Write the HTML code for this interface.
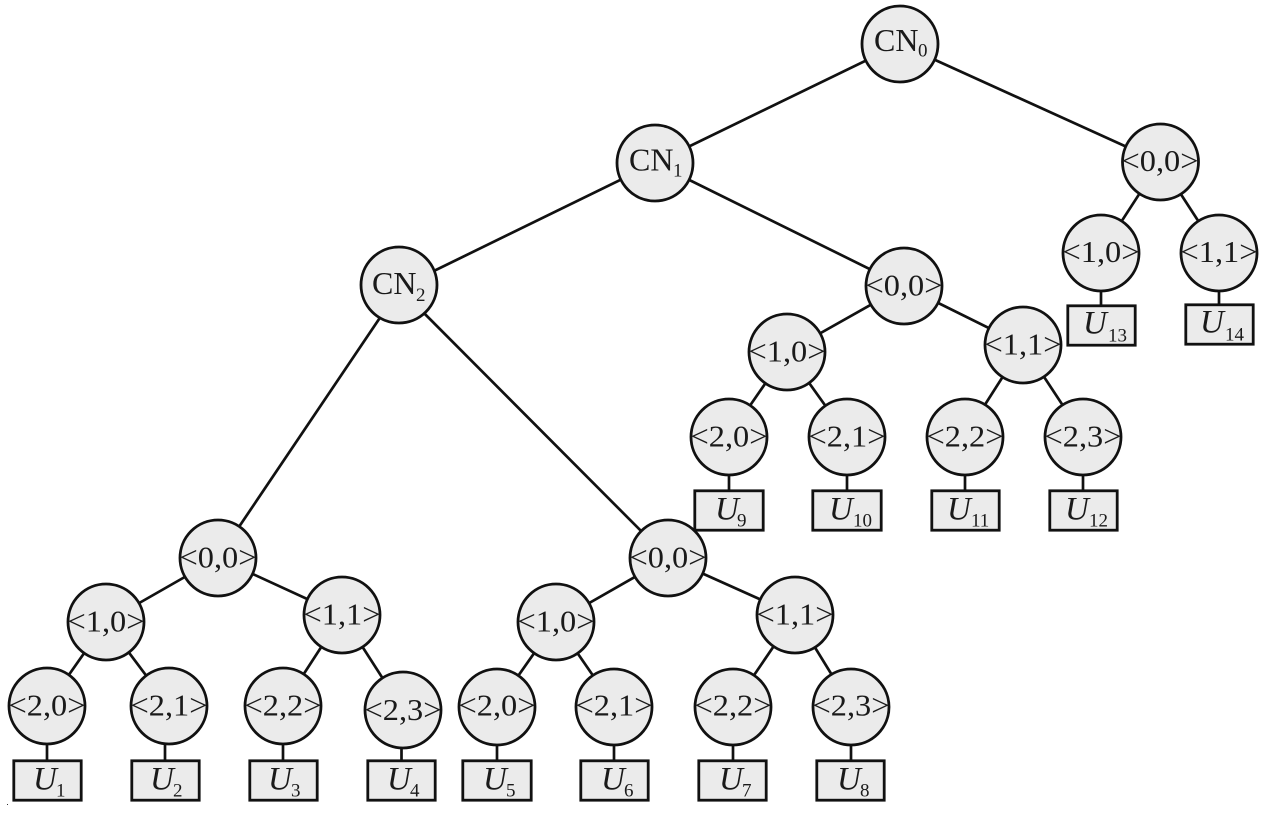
<!DOCTYPE html>
<html><head><meta charset="utf-8"><style>
html,body{margin:0;padding:0;background:#fff;width:1271px;height:817px;overflow:hidden}
svg{display:block}
line{stroke:#111;stroke-width:2.7}
circle{fill:#ebebeb;stroke:#111;stroke-width:2.8}
rect{fill:#ebebeb;stroke:#111;stroke-width:2.8}
text{font-family:"Liberation Serif",serif;fill:#1a1a1a}
.n{font-size:31px;text-anchor:middle}
.c{font-size:32px}
.s{font-size:19px}
.u{font-size:33px;font-style:italic}
</style></head><body>
<svg width="1271" height="817" viewBox="0 0 1271 817">
<g>
<line x1="900" y1="44" x2="655" y2="163"/><line x1="900" y1="44" x2="1160" y2="162"/>
<line x1="655" y1="163" x2="399" y2="288"/><line x1="655" y1="163" x2="904" y2="286"/>
<line x1="1160" y1="162" x2="1101" y2="253"/><line x1="1160" y1="162" x2="1219" y2="253"/>
<line x1="1101" y1="253" x2="1101" y2="305"/><line x1="1219" y1="253" x2="1219" y2="305"/>
<line x1="904" y1="286" x2="787" y2="352"/><line x1="904" y1="286" x2="1023" y2="345"/>
<line x1="787" y1="352" x2="729" y2="436"/><line x1="787" y1="352" x2="847" y2="436"/>
<line x1="1023" y1="345" x2="965" y2="436"/><line x1="1023" y1="345" x2="1083" y2="436"/>
<line x1="729" y1="436" x2="729" y2="492"/><line x1="847" y1="436" x2="847" y2="492"/>
<line x1="965" y1="436" x2="965" y2="492"/><line x1="1083" y1="436" x2="1083" y2="492"/>
<line x1="402" y1="285" x2="218" y2="558"/><line x1="396" y1="285" x2="668" y2="558"/>
<line x1="218" y1="558" x2="106" y2="622"/><line x1="218" y1="558" x2="342" y2="615"/>
<line x1="106" y1="622" x2="47" y2="706"/><line x1="106" y1="622" x2="169" y2="706"/>
<line x1="342" y1="615" x2="283" y2="706"/><line x1="342" y1="615" x2="403" y2="710"/>
<line x1="668" y1="558" x2="556" y2="622"/><line x1="668" y1="558" x2="795" y2="615"/>
<line x1="556" y1="622" x2="497" y2="706"/><line x1="556" y1="622" x2="614" y2="706"/>
<line x1="795" y1="615" x2="733" y2="706"/><line x1="795" y1="615" x2="851" y2="706"/>
<line x1="47" y1="706" x2="47" y2="760"/><line x1="165" y1="706" x2="165" y2="760"/>
<line x1="283" y1="706" x2="283" y2="760"/><line x1="401.5" y1="709" x2="401.5" y2="760"/>
<line x1="497" y1="706" x2="497" y2="760"/><line x1="614" y1="706" x2="614" y2="760"/>
<line x1="733" y1="706" x2="733" y2="760"/><line x1="851" y1="706" x2="851" y2="760"/>
</g>
<g>
<circle cx="900" cy="44" r="38"/><circle cx="655" cy="163" r="38"/><circle cx="399" cy="285" r="38"/>
<circle cx="1160.5" cy="162" r="38"/><circle cx="1101" cy="253" r="38"/><circle cx="1219" cy="253" r="38"/>
<circle cx="904" cy="286" r="38"/><circle cx="787" cy="352" r="38"/><circle cx="1023" cy="345" r="38"/>
<circle cx="729" cy="437" r="38"/><circle cx="847" cy="437" r="38"/><circle cx="965" cy="437" r="38"/><circle cx="1083" cy="437" r="38"/>
<circle cx="218" cy="558" r="38"/><circle cx="106" cy="622" r="38"/><circle cx="342" cy="615" r="38"/>
<circle cx="47" cy="706" r="38"/><circle cx="169" cy="706" r="38"/><circle cx="283" cy="706" r="38"/><circle cx="403" cy="710" r="38"/>
<circle cx="668" cy="558" r="38"/><circle cx="556" cy="622" r="38"/><circle cx="795" cy="615" r="38"/>
<circle cx="497" cy="707" r="38"/><circle cx="614" cy="707" r="38"/><circle cx="733" cy="707" r="38"/><circle cx="851" cy="707" r="38"/>
</g>
<g>
<rect x="1067.8" y="305.8" width="67.4" height="39.4"/><rect x="1185.8" y="304.8" width="67.4" height="39.4"/>
<rect x="694.8" y="490.8" width="68.4" height="39.4"/><rect x="812.8" y="490.8" width="68.4" height="39.4"/><rect x="931.8" y="490.8" width="67.4" height="39.4"/><rect x="1049.8" y="490.8" width="67.4" height="39.4"/>
<rect x="13.8" y="760.8" width="67.4" height="39.4"/><rect x="131.8" y="760.8" width="67.4" height="39.4"/><rect x="249.8" y="760.8" width="67.4" height="39.4"/><rect x="367.8" y="760.8" width="67.4" height="39.4"/>
<rect x="462.8" y="760.8" width="68.4" height="39.4"/><rect x="580.8" y="760.8" width="67.4" height="39.4"/><rect x="698.8" y="760.8" width="67.4" height="39.4"/><rect x="816.8" y="760.8" width="67.4" height="39.4"/>
</g>
<g>
<text class="c" x="874" y="51">CN</text><text class="s" x="918" y="56.5">0</text>
<text class="c" x="629" y="170.5">CN</text><text class="s" x="673" y="176.5">1</text>
<text class="c" x="372" y="294">CN</text><text class="s" x="416" y="301">2</text>
</g>
<g>
<text class="n" textLength="77" lengthAdjust="spacingAndGlyphs" x="1160" y="171">&lt;0,0&gt;</text>
<text class="n" textLength="77" lengthAdjust="spacingAndGlyphs" x="1101" y="262">&lt;1,0&gt;</text>
<text class="n" textLength="77" lengthAdjust="spacingAndGlyphs" x="1219" y="262">&lt;1,1&gt;</text>
<text class="n" textLength="77" lengthAdjust="spacingAndGlyphs" x="904" y="295.5">&lt;0,0&gt;</text>
<text class="n" textLength="77" lengthAdjust="spacingAndGlyphs" x="787" y="361.5">&lt;1,0&gt;</text>
<text class="n" textLength="77" lengthAdjust="spacingAndGlyphs" x="1023" y="354.5">&lt;1,1&gt;</text>
<text class="n" textLength="77" lengthAdjust="spacingAndGlyphs" x="729" y="446.5">&lt;2,0&gt;</text>
<text class="n" textLength="77" lengthAdjust="spacingAndGlyphs" x="847" y="446.5">&lt;2,1&gt;</text>
<text class="n" textLength="77" lengthAdjust="spacingAndGlyphs" x="965" y="446.5">&lt;2,2&gt;</text>
<text class="n" textLength="77" lengthAdjust="spacingAndGlyphs" x="1083" y="446.5">&lt;2,3&gt;</text>
<text class="n" textLength="77" lengthAdjust="spacingAndGlyphs" x="218" y="567.5">&lt;0,0&gt;</text>
<text class="n" textLength="77" lengthAdjust="spacingAndGlyphs" x="106" y="631.5">&lt;1,0&gt;</text>
<text class="n" textLength="77" lengthAdjust="spacingAndGlyphs" x="342" y="624.5">&lt;1,1&gt;</text>
<text class="n" textLength="77" lengthAdjust="spacingAndGlyphs" x="47" y="715.5">&lt;2,0&gt;</text>
<text class="n" textLength="77" lengthAdjust="spacingAndGlyphs" x="169" y="715.5">&lt;2,1&gt;</text>
<text class="n" textLength="77" lengthAdjust="spacingAndGlyphs" x="283" y="715.5">&lt;2,2&gt;</text>
<text class="n" textLength="77" lengthAdjust="spacingAndGlyphs" x="403" y="720">&lt;2,3&gt;</text>
<text class="n" textLength="77" lengthAdjust="spacingAndGlyphs" x="668" y="567.5">&lt;0,0&gt;</text>
<text class="n" textLength="77" lengthAdjust="spacingAndGlyphs" x="556" y="631.5">&lt;1,0&gt;</text>
<text class="n" textLength="77" lengthAdjust="spacingAndGlyphs" x="795" y="624.5">&lt;1,1&gt;</text>
<text class="n" textLength="77" lengthAdjust="spacingAndGlyphs" x="497" y="715.5">&lt;2,0&gt;</text>
<text class="n" textLength="77" lengthAdjust="spacingAndGlyphs" x="614" y="715.5">&lt;2,1&gt;</text>
<text class="n" textLength="77" lengthAdjust="spacingAndGlyphs" x="733" y="715.5">&lt;2,2&gt;</text>
<text class="n" textLength="77" lengthAdjust="spacingAndGlyphs" x="851" y="715.5">&lt;2,3&gt;</text>
</g>
<g>
<text class="u" x="1083" y="333.5">U</text><text class="s" x="1108" y="341.5">13</text>
<text class="u" x="1200" y="332.5">U</text><text class="s" x="1225" y="340.5">14</text>
<text class="u" x="715" y="519.5">U</text><text class="s" x="737" y="526.5">9</text>
<text class="u" x="829" y="519.5">U</text><text class="s" x="853" y="526.5">10</text>
<text class="u" x="947" y="519.5">U</text><text class="s" x="971" y="526.5">11</text>
<text class="u" x="1065" y="519.5">U</text><text class="s" x="1089" y="526.5">12</text>
<text class="u" x="33" y="789.5">U</text><text class="s" x="56" y="796.5">1</text>
<text class="u" x="150" y="789.5">U</text><text class="s" x="173" y="796.5">2</text>
<text class="u" x="268" y="789.5">U</text><text class="s" x="291" y="796.5">3</text>
<text class="u" x="387" y="789.5">U</text><text class="s" x="410" y="796.5">4</text>
<text class="u" x="483" y="789.5">U</text><text class="s" x="506" y="796.5">5</text>
<text class="u" x="601" y="789.5">U</text><text class="s" x="624" y="796.5">6</text>
<text class="u" x="719" y="789.5">U</text><text class="s" x="742" y="796.5">7</text>
<text class="u" x="837" y="789.5">U</text><text class="s" x="860" y="796.5">8</text>
</g>
<rect x="7" y="804" width="1" height="1" style="fill:#333;stroke:none"/>
</svg>
</body></html>
